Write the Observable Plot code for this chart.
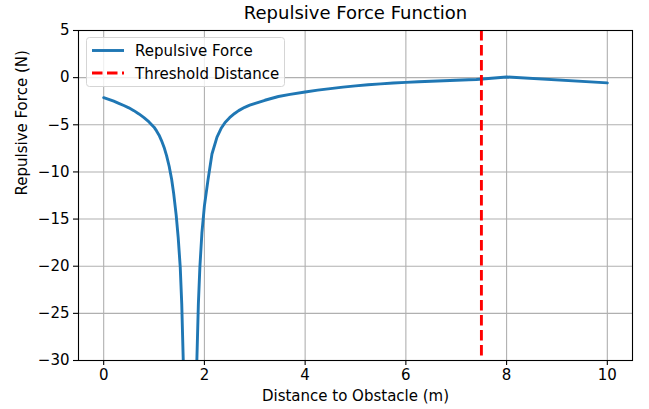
<!DOCTYPE html>
<html>
<head>
<meta charset="utf-8">
<script src="https://cdn.jsdelivr.net/npm/d3@7"></script>
<script src="https://cdn.jsdelivr.net/npm/@observablehq/plot@0.6"></script>
<style>
  html, body { margin: 0; padding: 0; background: #fff; }
  svg { display: block; }
</style>
</head>
<body>
<div id="chart"></div>
<script>
// Data
const distance = [0, 0.1, 0.2, 0.3, 0.4, 0.5, 0.6, 0.7, 0.8, 0.9, 1.0, 1.05, 1.1, 1.15, 1.2, 1.25, 1.3, 1.35,
                  1.39, 1.44, 1.48, 1.52, 1.55, 1.58, 1.61,
                  1.83, 1.85, 1.88, 1.91, 1.95, 2.0, 2.07, 2.15, 2.25, 2.33, 2.41, 2.5, 2.6,
                  2.68, 2.8, 2.9, 3.01, 3.2, 3.47, 3.7, 4.0,
                  4.25, 4.5, 4.75, 5.0, 5.25, 5.5, 5.75, 6.0, 6.25, 6.5, 6.75, 7.0, 7.25,
                  7.4, 8.0, 10.0];
const force = [-2.12, -2.3, -2.5, -2.72, -2.95, -3.2, -3.5, -3.85, -4.25, -4.7, -5.25, -5.65, -6.1, -6.7,
               -7.4, -8.3, -9.4, -10.8, -12.3, -14.6, -17.0, -20.1, -24.0, -30, -40,
               -40, -30, -24, -20.1, -16.5, -13.6, -10.9, -8.1, -6.3, -5.4, -4.75, -4.25,
               -3.8, -3.5, -3.15, -2.92, -2.72, -2.4, -2.0, -1.78, -1.52,
               -1.33, -1.16, -1.0, -0.87, -0.76, -0.66, -0.57, -0.5, -0.44, -0.38, -0.33,
               -0.28, -0.23, -0.2, 0.07, -0.56];
const thresholdDistance = [7.5];
const xTicks = [0, 2, 4, 6, 8, 10];
const yTicks = [5, 0, -5, -10, -15, -20, -25, -30];
const seriesNames = ["Repulsive Force", "Threshold Distance"];
const titleText = "Repulsive Force Function";
const xLabel = "Distance to Obstacle (m)";
const yLabel = "Repulsive Force (N)";

const data = distance.map((d, i) => ({distance: d, force: force[i]}));
const blue = "#1f77b4";
const red = "#ff0000";
const fs = 15;

const chart = Plot.plot({
  width: 649,
  height: 409,
  marginLeft: 78,
  marginRight: 17,
  marginTop: 30,
  marginBottom: 49,
  style: {fontFamily: "DejaVu Sans", fontSize: fs + "px", color: "black", background: "white"},
  x: {domain: [-0.5, 10.5]},
  y: {domain: [-30, 5]},
  marks: [
    Plot.gridX(xTicks, {stroke: "#b0b0b0", strokeOpacity: 1, strokeWidth: 1.1}),
    Plot.gridY(yTicks, {stroke: "#b0b0b0", strokeOpacity: 1, strokeWidth: 1.1}),
    Plot.line(data, {x: "distance", y: "force", stroke: blue, strokeWidth: 2.9, clip: true}),
    Plot.ruleX(thresholdDistance, {stroke: red, strokeWidth: 2.9, strokeDasharray: "10.5,4.5"}),
    Plot.frame({stroke: "black", strokeWidth: 1.1}),
    Plot.axisX(xTicks, {label: null, tickSize: 5, tickPadding: 4, fontSize: fs, stroke: "black", strokeWidth: 1.1}),
    Plot.axisY(yTicks, {label: null, tickSize: 5, tickPadding: 4, fontSize: fs, stroke: "black", strokeWidth: 1.1}),
    Plot.text([titleText], {frameAnchor: "top", dy: -24, fontSize: 18, fill: "black", lineAnchor: "top"}),
    Plot.text([xLabel], {frameAnchor: "bottom", dy: 30, fontSize: fs, fill: "black", lineAnchor: "top"}),
    Plot.text([yLabel], {frameAnchor: "left", dx: -56, rotate: -90, fontSize: fs, fill: "black"})
  ]
});

document.getElementById("chart").appendChild(chart);

// Legend (matplotlib style, upper left)
const svg = d3.select(chart);
const lg = svg.append("g").attr("font-family", "DejaVu Sans").attr("font-size", fs + "px")
  .attr("text-anchor", "start");
lg.append("rect").attr("x", 86.5).attr("y", 37.5).attr("width", 198).attr("height", 49)
  .attr("rx", 3).attr("fill", "white").attr("fill-opacity", 0.8)
  .attr("stroke", "#d5d5d5").attr("stroke-width", 1);
const items = [
  {name: seriesNames[0], color: blue, dash: null, y: 50.5},
  {name: seriesNames[1], color: red, dash: "10.5,4.5", y: 73}
];
items.forEach(it => {
  lg.append("line").attr("x1", 92).attr("x2", 124).attr("y1", it.y).attr("y2", it.y)
    .attr("stroke", it.color).attr("stroke-width", 2.9)
    .attr("stroke-dasharray", it.dash);
  lg.append("text").attr("x", 135).attr("y", it.y + 5.5).attr("text-anchor", "start")
    .attr("fill", "black").text(it.name);
});
</script>
</body>
</html>
